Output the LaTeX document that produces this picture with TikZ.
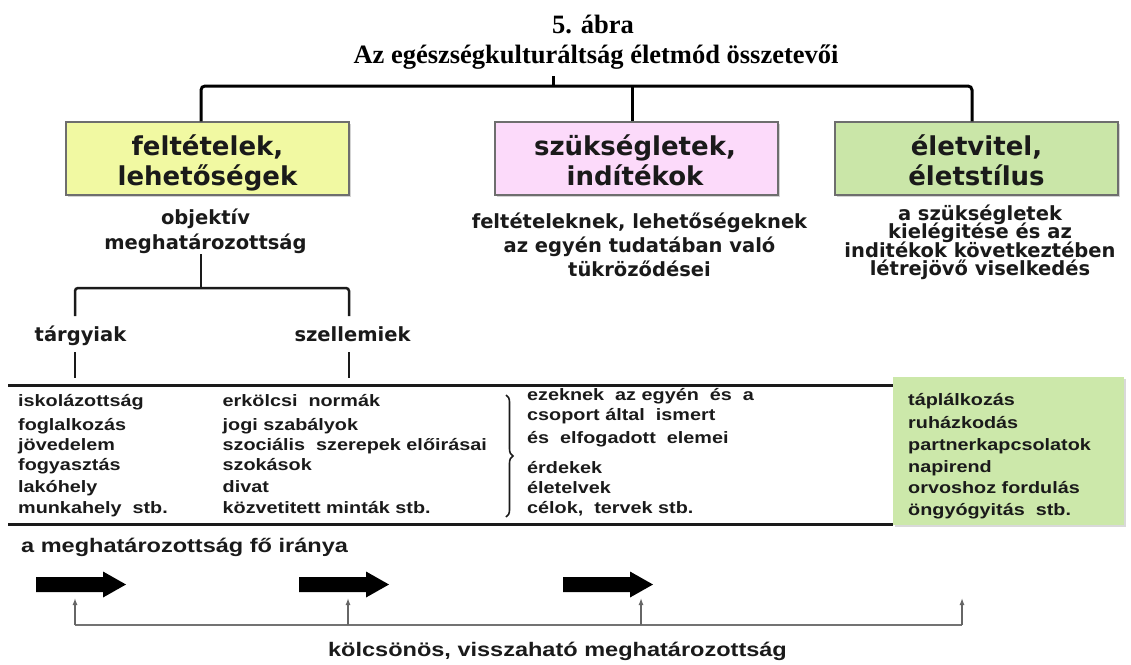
\documentclass[tikz,border=0pt]{standalone}
\usepackage{fontspec}
\setmainfont{Liberation Sans}
\newfontfamily\headserif{Liberation Serif}
\newfontfamily\boxsans{DejaVu Sans}
\newfontfamily\widesans[FakeStretch=1.2]{Liberation Sans}
\usetikzlibrary{decorations.pathreplacing,arrows.meta,shadows}

\definecolor{ink}{RGB}{26,26,26}
\definecolor{edge}{RGB}{110,110,110}
\definecolor{ybox}{RGB}{241,249,162}
\definecolor{pbox}{RGB}{252,218,250}
\definecolor{gbox}{RGB}{202,230,168}
\definecolor{glistfill}{RGB}{204,232,170}

\tikzset{
  heading/.style={font=\headserif\bfseries\fontsize{26.5}{30}\selectfont, text=black, inner sep=0pt, anchor=base},
  boxshape/.style={draw=edge, line width=1.2pt, minimum width=283pt, minimum height=73pt, inner sep=0pt,
    drop shadow={shadow xshift=1.5pt, shadow yshift=-1.5pt, opacity=0.35}},
  boxtitle/.style={font=\boxsans\bfseries\fontsize{26}{30}\selectfont, text=ink, inner sep=0pt, anchor=base},
  desc/.style={font=\boxsans\bfseries\fontsize{19.5}{24}\selectfont, text=ink, inner sep=1pt, anchor=base},
  listtxt/.style={font=\widesans\bfseries\fontsize{16.5}{20}\selectfont, text=ink, inner sep=0pt, anchor=base west},
  note/.style={font=\widesans\bfseries\fontsize{19.6}{24}\selectfont, text=ink, inner sep=0pt},
  bar/.style={line width=3pt, draw=black, rounded corners=4pt},
  branch/.style={line width=2.5pt, draw=ink, rounded corners=3pt},
  tablerule/.style={line width=3pt, draw=ink},
  backline/.style={line width=1.3pt, draw=black!55, rounded corners=3pt},
  uptip/.style={-{Latex[length=7pt,width=5pt]}, line width=1.3pt, draw=black!60},
  bigarrow/.style={fill=black}
}

\begin{document}
\begin{tikzpicture}[x=1pt,y=-1pt]
\useasboundingbox (0,0) rectangle (1131,664);

% headings
\node[heading] (t1) at (593,33) {5. ábra};
\node[heading] (t2) at (596,63) {Az egészségkulturáltság életmód összetevői};

% the three main boxes
\node[boxshape, fill=ybox] (b1) at (207.5,158.5) {};
\node[boxshape, fill=pbox] (b2) at (636.5,158.5) {};
\node[boxshape, fill=gbox] (b3) at (976.5,158.5) {};

\node[boxtitle] (b1a) at (207.5,155) {feltételek,};
\node[boxtitle] (b1b) at (207.5,185) {lehetőségek};
\node[boxtitle] (b2a) at (635,155) {szükségletek,};
\node[boxtitle] (b2b) at (635,185) {indítékok};
\node[boxtitle] (b3a) at (976.5,155) {életvitel,};
\node[boxtitle] (b3b) at (976.5,185) {életstílus};

% top tree
\coordinate (ts) at (553,76);
\coordinate (tb) at (553,86);
\path ([xshift=-6.5pt]b1.north) coordinate (s1);
\path ([xshift=-4.5pt]b2.north) coordinate (s2);
\path ([xshift=-4.5pt]b3.north) coordinate (s3);
\draw[bar] (s1) |- (tb) -| (s3);
\draw[bar] (ts) -- (tb);
\draw[bar] (s2) -- (s2 |- tb);

% descriptions under the boxes
\node[desc] (d1a) at (205.5,224) {objektív};
\node[desc] (d1b) at (205.5,249) {meghatározottság};

\node[desc] (d2a) at (639.5,228) {feltételeknek, lehetőségeknek};
\node[desc] (d2b) at (639.5,252) {az egyén tudatában való};
\node[desc] (d2c) at (639.5,276) {tükröződései};

\node[desc] (d3a) at (980,220) {a szükségletek};
\node[desc] (d3b) at (980,238.5) {kielégitése és az};
\node[desc] (d3c) at (980,257) {inditékok következtében};
\node[desc] (d3d) at (980,275.5) {létrejövő viselkedés};

% lower tree
\node[desc] (tar) at (80.5,341) {tárgyiak};
\node[desc] (szel) at (352.5,341) {szellemiek};
\coordinate (j1) at (201,288);
\coordinate (j2) at (75,316);
\coordinate (j3) at (349,316);
\draw[branch] (d1b.south -| j1) -- (j1);
\draw[branch] (j2) |- (j1) -| (j3);
\coordinate (k1) at (75,352);
\coordinate (k2) at (75,378);
\coordinate (k3) at (349,352);
\coordinate (k4) at (349,378);
\draw[branch] (k1) -- (k2);
\draw[branch] (k3) -- (k4);

% green list box
\node[fill=glistfill, minimum width=231pt, minimum height=148pt, inner sep=0pt, anchor=north west,
  drop shadow={shadow xshift=1.5pt, shadow yshift=-1.5pt, opacity=0.3}] (glist) at (893,377) {};

% table rules
\coordinate (r1) at (8,385);
\coordinate (r2) at (8,524);
\draw[tablerule] (r1) -- (r1 -| glist.west);
\draw[tablerule] (r2) -- (r2 -| glist.west);

% table columns
\foreach \ry/\rt [count=\i] in {406/iskolázottság, 430/foglalkozás, 450/jövedelem, 470/fogyasztás, 492/lakóhely, 513/munkahely\ \ stb.}
  \node[listtxt] (ca\i) at (18,\ry) {\rt};
\foreach \ry/\rt [count=\i] in {406/erkölcsi\ \ normák, 430/jogi szabályok, 450/szociális\ \ szerepek előirásai, 470/szokások, 492/divat, 513/közvetitett minták stb.}
  \node[listtxt] (cb\i) at (222.5,\ry) {\rt};
\foreach \ry/\rt [count=\i] in {400/ezeknek\ \ az egyén\ \ és\ \ a, 420/csoport által\ \ ismert, 443/és\ \ elfogadott\ \ elemei, 473/érdekek, 493/életelvek, 513/{célok,\ \ tervek stb.}}
  \node[listtxt] (cc\i) at (527,\ry) {\rt};
\foreach \ry/\rt [count=\i] in {405/táplálkozás, 428/ruházkodás, 450/partnerkapcsolatok, 472/napirend, 493/orvoshoz fordulás, 515/öngyógyitás\ \ stb.}
  \node[listtxt] (cd\i) at (908,\ry) {\rt};

% brace
\coordinate (br1) at (506,395);
\coordinate (br2) at (506,517);
\draw[decorate, decoration={brace, amplitude=7pt}, line width=1.6pt, draw=ink] (br1) -- (br2);

% main direction
\node[note, anchor=base west] (dir) at (21,552) {a meghatározottság fő iránya};
\foreach \ax in {36,299,563}
  \fill[bigarrow] (\ax,577) -- ++(67,0) -- ++(0,-5.5) -- ++(23,13) -- ++(-23,13) -- ++(0,-5.5) -- ++(-67,0) -- cycle;

% feedback line
\coordinate (u1) at (75,598);
\coordinate (u2) at (348,598);
\coordinate (u3) at (641,598);
\coordinate (u4) at (962,598);
\coordinate (f1) at (75,625);
\coordinate (f4) at (962,625);
\draw[backline] (f1) -- (f4);
\draw[uptip] (f1) -- (u1);
\draw[uptip] (u2 |- f1) -- (u2);
\draw[uptip] (u3 |- f1) -- (u3);
\draw[uptip] (f4) -- (u4);
\node[note, anchor=base] (fb) at (557.5,656) {kölcsönös, visszaható meghatározottság};
\end{tikzpicture}
\end{document}
